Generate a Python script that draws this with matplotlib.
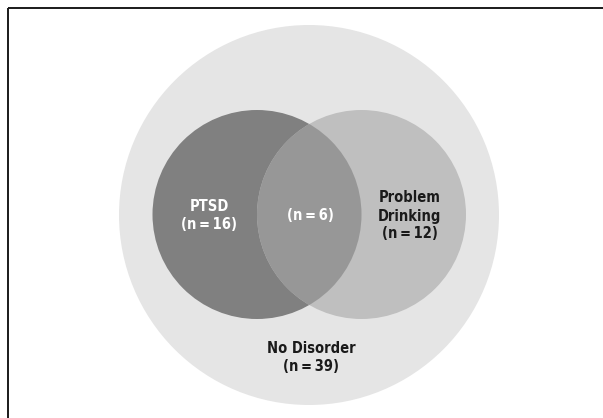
import matplotlib.pyplot as plt
from matplotlib.patches import Circle

plt.rcParams['font.family'] = ['DejaVu Sans']

# group names and counts
groups = ['PTSD', '', 'Problem\nDrinking', 'No Disorder']
counts = [16, 6, 12, 39]

# layout in pixel coords (y down)
big_c, big_r = (309, 215), 190
ptsd_c, pd_c, small_r = (257, 214.5), (361.5, 214.5), 104.5

fig = plt.figure(figsize=(6.03, 4.18), dpi=100)
ax = fig.add_axes([0, 0, 1, 1])
ax.set_xlim(0, 603)
ax.set_ylim(418, 0)
ax.set_aspect('equal')
ax.axis('off')

# cropped frame: top and left edges only
ax.plot([8, 603], [8, 8], color='#1a1a1a', lw=1.4, solid_capstyle='butt')
ax.plot([8, 8], [8, 418], color='#1a1a1a', lw=1.4, solid_capstyle='butt')

ax.add_patch(Circle(big_c, big_r, facecolor='#e5e5e5', edgecolor='none'))
ptsd = Circle(ptsd_c, small_r, facecolor='#808080', edgecolor='none')
ax.add_patch(ptsd)
ax.add_patch(Circle(pd_c, small_r, facecolor='#bfbfbf', edgecolor='none'))
both = Circle(pd_c, small_r, facecolor='#979797', edgecolor='none')
ax.add_patch(both)
both.set_clip_path(ptsd)

fs = 10.5
def label(x, y, name, n, color):
    txt = (name + '\n' if name else '') + '(n\u2009=\u2009%d)' % n
    ax.text(x, y, txt, ha='center', va='center', fontsize=fs,
            fontweight='bold', fontstretch='condensed', color=color,
            linespacing=1.25)

label(209, 215.5, groups[0], counts[0], 'white')
label(310.5, 216, groups[1], counts[1], 'white')
label(409.5, 216, groups[2], counts[2], '#1a1a1a')
label(311, 357.5, groups[3], counts[3], '#1a1a1a')

fig.savefig('out.png', dpi=100)
